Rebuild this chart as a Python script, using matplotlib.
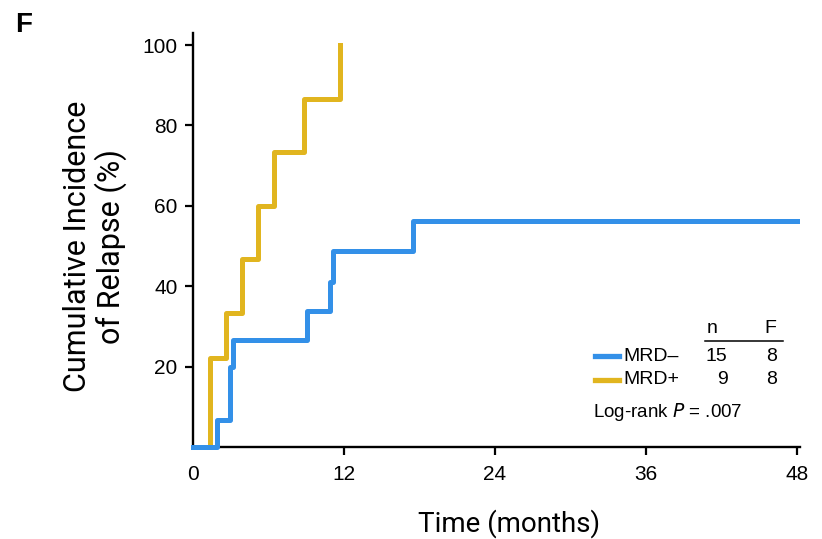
import matplotlib.pyplot as plt
from matplotlib.lines import Line2D

# step curves (months, cumulative incidence %)
pos_t = [0, 1.35, 2.63, 3.9, 5.17, 6.45, 8.84, 11.7]
pos_v = [0, 22.2, 33.3, 46.7, 60.0, 73.3, 86.7, 100.0]
neg_t = [0, 1.9, 2.95, 3.18, 9.08, 10.9, 11.15, 17.5, 48]
neg_v = [0, 6.7, 20.0, 26.7, 33.9, 41.0, 48.7, 56.2, 56.2]

x_ticks = [0, 12, 24, 36, 48]
y_ticks = [20, 40, 60, 80, 100]

groups = ['MRD\u2013', 'MRD+']
n_pat = ['15', '9']
n_fail = ['8', '8']

blue = '#3390e8'
gold = '#e1b51f'
lab_font = ['Roboto', 'DejaVu Sans']
txt_font = ['Liberation Sans', 'DejaVu Sans']

fig = plt.figure(figsize=(8.22, 5.39), dpi=100)
ax = fig.add_axes([0.2348, 0.1707, 0.7384, 0.768])

ax.plot(pos_t, pos_v, drawstyle='steps-post', color=gold, lw=3.6, clip_on=False, zorder=3)
ax.plot(neg_t, neg_v, drawstyle='steps-post', color=blue, lw=3.6, clip_on=False, zorder=4)

ax.set_xlim(0, 48.25)
ax.set_ylim(0, 103)
ax.set_xticks(x_ticks)
ax.set_yticks(y_ticks)
ax.tick_params(direction='out', length=6, width=1.6, pad=5)
ax.tick_params(axis='x', pad=7)
for lab in ax.get_xticklabels() + ax.get_yticklabels():
    lab.set_family(txt_font)
    lab.set_fontsize(15)
ax.xaxis.get_major_ticks()[0].tick1line.set_visible(False)
for s in ['top', 'right']:
    ax.spines[s].set_visible(False)
for s in ['left', 'bottom']:
    ax.spines[s].set_linewidth(1.7)

ax.set_xlabel('Time (months)', fontsize=20, family=lab_font, labelpad=18)
ax.xaxis.label.set_x(0.52)
ax.set_ylabel('Cumulative Incidence\nof Relapse (%)', fontsize=22, family=lab_font,
              labelpad=11, linespacing=1.1)
ax.yaxis.label.set_y(0.485)

fig.text(0.018, 0.94, 'F', fontsize=20, fontweight='bold', family=txt_font)

# legend table drawn by hand like the original
line_y = [0.3395, 0.295]
for i, c in enumerate([blue, gold]):
    fig.add_artist(Line2D([0.724, 0.753], [line_y[i], line_y[i]], color=c, lw=3.8))
    fig.text(0.758, line_y[i], groups[i], fontsize=14, va='center', family=txt_font)
    fig.text(0.885, line_y[i], n_pat[i], fontsize=14, va='center', ha='right', family=txt_font)
    fig.text(0.945, line_y[i], n_fail[i], fontsize=14, va='center', ha='right', family=txt_font)
fig.text(0.866, 0.39, 'n', fontsize=14, ha='center', va='center', family=txt_font)
fig.text(0.937, 0.39, 'F', fontsize=14, ha='center', va='center', family=txt_font)
fig.add_artist(Line2D([0.858, 0.953], [0.367, 0.367], color='black', lw=1.1))
fig.text(0.721, 0.2356, 'Log-rank $\\it{P}$ = .007', fontsize=13.5, va='center', family=txt_font)

fig.savefig('out.png', dpi=100)
